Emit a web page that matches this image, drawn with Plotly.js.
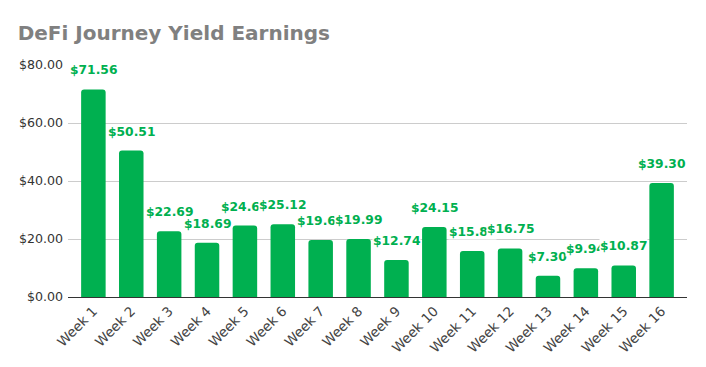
<!DOCTYPE html>
<html>
<head>
<meta charset="utf-8">
<script src="https://cdn.plot.ly/plotly-3.0.1.min.js"></script>
<style>html,body{margin:0;padding:0;background:#fff;}#chart{width:706px;height:367px;}</style>
</head>
<body>
<div id="chart"></div>
<script>
const weeks = ["Week 1","Week 2","Week 3","Week 4","Week 5","Week 6","Week 7","Week 8","Week 9","Week 10","Week 11","Week 12","Week 13","Week 14","Week 15","Week 16"];
const earnings = [71.56, 50.51, 22.69, 18.69, 24.62, 25.12, 19.65, 19.99, 12.74, 24.15, 15.83, 16.75, 7.30, 9.94, 10.87, 39.30];
const yTickVals = [0, 20, 40, 60, 80];
const yTickText = ["$0.00", "$20.00", "$40.00", "$60.00", "$80.00"];

const green = "#00b050";
const labels = earnings.map(v => "$" + v.toFixed(2));

const annotations = weeks.map((w, i) => ({
  x: w, y: earnings[i], xref: "x", yref: "y",
  text: "<b>" + labels[i] + "</b>",
  showarrow: false, yanchor: "bottom", xanchor: "center", yshift: 11,
  font: {family: "DejaVu Sans", size: 12.3, color: green},
  bgcolor: "rgba(255,255,255,1)", borderpad: 0
}));

const data = [{
  type: "bar", x: weeks, y: earnings,
  marker: {color: green, cornerradius: 3},
  hoverinfo: "none"
}];

const layout = {
  width: 706, height: 367,
  margin: {l: 68, r: 19, t: 65, b: 70},
  paper_bgcolor: "#fff", plot_bgcolor: "#fff",
  title: {text: "<b>DeFi Journey Yield Earnings</b>", x: 0.025, xanchor: "left", y: 0.91, yanchor: "middle",
          font: {family: "DejaVu Sans", size: 20, color: "#808080"}},
  bargap: 0.353,
  showlegend: false,
  xaxis: {
    type: "category", range: [-0.67, 15.67], tickangle: -45,
    tickfont: {family: "DejaVu Sans", size: 13.5, color: "#444"},
    showgrid: false, showline: true, linecolor: "#333", linewidth: 1, ticks: "", fixedrange: true
  },
  yaxis: {
    range: [0, 80], tickvals: yTickVals, ticktext: yTickText,
    tickfont: {family: "DejaVu Sans", size: 12.6, color: "#333"},
    showgrid: true, gridcolor: "#cccccc", zeroline: true, zerolinecolor: "#333", zerolinewidth: 1,
    ticks: "", ticklabelstandoff: 4, fixedrange: true
  },
  annotations: annotations
};

Plotly.newPlot("chart", data, layout, {displayModeBar: false, staticPlot: true});
</script>
</body>
</html>
